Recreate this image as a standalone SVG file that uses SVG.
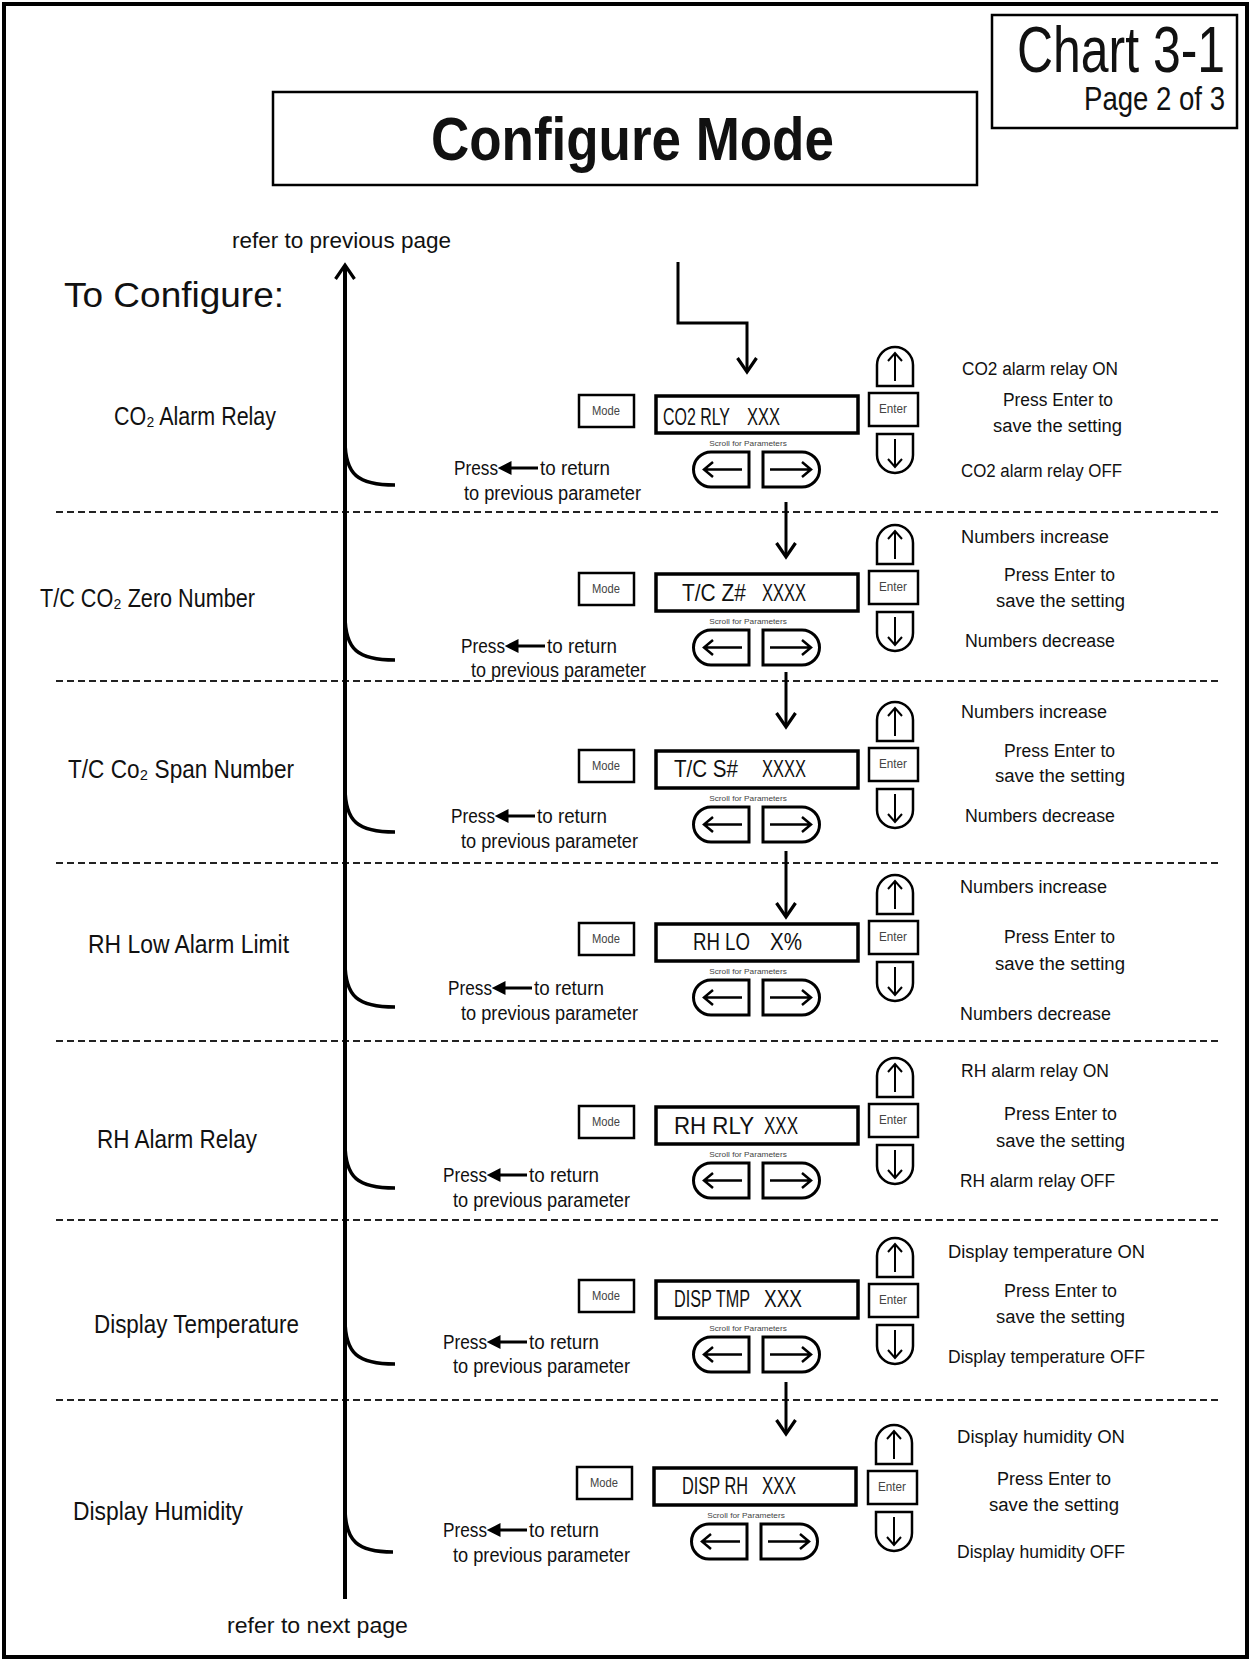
<svg xmlns="http://www.w3.org/2000/svg" width="1251" height="1661" viewBox="0 0 1251 1661">
<style>
.t{font-family:"Liberation Sans",Arial,sans-serif;fill:#111}
.lbl{font-size:26px}
.rt{font-size:19px}
.pr{font-size:20px}
.dt{font-size:23px}
.sm{font-size:12px;fill:#444}
.tiny{font-size:7px;fill:#444}
.ln{stroke:#000;fill:none}
.dash{stroke:#222;stroke-width:2;stroke-dasharray:7 4;fill:none}
</style>
<defs>
<marker id="ah" viewBox="0 0 20 22" refX="17" refY="11" markerWidth="20" markerHeight="22" markerUnits="userSpaceOnUse" orient="auto">
<path d="M3,1.5 L17,11 L3,20.5" fill="none" stroke="#000" stroke-width="3.2"/>
</marker>
<g id="padL">
<rect x="579" y="395" width="55" height="32" class="ln" stroke-width="2.5"/>
<text transform="matrix(0.8 0 0 1 606 415)" class="t sm" text-anchor="middle" textLength="35" lengthAdjust="spacingAndGlyphs">Mode</text>
<rect x="656" y="396" width="202" height="37" class="ln" stroke-width="3.5"/>
<text transform="matrix(0.8 0 0 1 748 446)" class="t tiny" text-anchor="middle" textLength="97" lengthAdjust="spacingAndGlyphs">Scroll for Parameters</text>
<path d="M749,452 H711 A17.5,17.5 0 0 0 711,487 H749 Z" class="ln" stroke-width="3"/>
<path d="M742,469.5 H704 M713,462 L704,469.5 L713,477" class="ln" stroke-width="2.5"/>
<path d="M763,452 H802 A17.5,17.5 0 0 1 802,487 H763 Z" class="ln" stroke-width="3"/>
<path d="M770,469.5 H811 M802,462 L811,469.5 L802,477" class="ln" stroke-width="2.5"/>
</g>
<g id="padR">
<path d="M877,386 V365 A18,18 0 0 1 913,365 V386 Z" class="ln" stroke-width="2.5"/>
<path d="M895,381 V353 M888,361 L895,353 L902,361" class="ln" stroke-width="2"/>
<rect x="869" y="393" width="49" height="33" class="ln" stroke-width="2.5"/>
<text transform="matrix(0.8 0 0 1 893 413)" class="t sm" text-anchor="middle" textLength="35" lengthAdjust="spacingAndGlyphs">Enter</text>
<path d="M877,434 V455 A18,18 0 0 0 913,455 V434 Z" class="ln" stroke-width="2.5"/>
<path d="M895,439 V467 M888,459 L895,467 L902,459" class="ln" stroke-width="2"/>
</g>
<path id="pressArrow" d="M0,0 L9,-4.5 L9,4.5 Z M8,0 H37" stroke="#000" stroke-width="3" fill="#000"/>
</defs>

<rect x="4" y="4" width="1243" height="1653" fill="#fff" stroke="#000" stroke-width="4"/>

<g id="title">
<rect x="273" y="92" width="704" height="93" class="ln" stroke-width="2.5"/>
<text transform="matrix(0.85 0 0 1 431 160)" class="t" font-size="62" font-weight="bold" textLength="474" lengthAdjust="spacingAndGlyphs">Configure Mode</text>
</g>
<g id="chart">
<rect x="992" y="15" width="245" height="113" class="ln" stroke-width="2.5"/>
<text transform="matrix(0.78 0 0 1 1017 72)" class="t" font-size="64" textLength="266.7" lengthAdjust="spacingAndGlyphs">Chart 3-1</text>
<text transform="matrix(0.8 0 0 1 1084 110)" class="t" font-size="33" textLength="176.25" lengthAdjust="spacingAndGlyphs">Page 2 of 3</text>
</g>
<g id="header">
<text x="64" y="307" class="t" font-size="35" textLength="220" lengthAdjust="spacingAndGlyphs">To Configure:</text>
<text transform="matrix(0.85 0 0 1 232 248)" class="t" font-size="22" textLength="257.6" lengthAdjust="spacingAndGlyphs">refer to previous page</text>
<text transform="matrix(0.85 0 0 1 227 1633)" class="t" font-size="22" textLength="212.9" lengthAdjust="spacingAndGlyphs">refer to next page</text>
</g>

<g id="dividers">
<path d="M56,512 H1218 M56,681 H1218 M56,863 H1218 M56,1041 H1218 M56,1220 H1218 M56,1400 H1218" class="dash"/>
</g>

<g id="connectors">
<path d="M345,1599 V265" class="ln" stroke-width="4" marker-end="url(#ah)"/>
<path d="M678,262 V323 H747 V372" class="ln" stroke-width="3" marker-end="url(#ah)"/>
<path d="M786,502 V557" class="ln" stroke-width="3" marker-end="url(#ah)"/>
<path d="M786,672 V727" class="ln" stroke-width="3" marker-end="url(#ah)"/>
<path d="M786,851 V917" class="ln" stroke-width="3" marker-end="url(#ah)"/>
<path d="M786,1382 V1434" class="ln" stroke-width="3" marker-end="url(#ah)"/>
<path d="M345,440 C345,475 358,485 395,485" class="ln" stroke-width="3.5"/>
<path d="M345,615 C345,650 358,660 395,660" class="ln" stroke-width="3.5"/>
<path d="M345,787 C345,822 358,832 395,832" class="ln" stroke-width="3.5"/>
<path d="M345,962 C345,997 358,1007 395,1007" class="ln" stroke-width="3.5"/>
<path d="M345,1143 C345,1178 358,1188 395,1188" class="ln" stroke-width="3.5"/>
<path d="M345,1319 C345,1354 358,1364 395,1364" class="ln" stroke-width="3.5"/>
<path d="M345,1507 C345,1542 358,1552 393,1552" class="ln" stroke-width="3.5"/>
</g>

<g id="row1">
<text transform="matrix(0.75 0 0 1 114 425)" class="t lbl" textLength="216" lengthAdjust="spacingAndGlyphs">CO₂ Alarm Relay</text>
<use href="#padL"/>
<use href="#padR"/>
<text transform="matrix(0.7 0 0 1 663 425)" class="t dt" textLength="95.7" lengthAdjust="spacingAndGlyphs">CO2 RLY</text>
<text transform="matrix(0.7 0 0 1 747 425)" class="t dt" textLength="47.1" lengthAdjust="spacingAndGlyphs">XXX</text>
<text transform="matrix(0.8 0 0 1 454 475)" class="t pr" textLength="55" lengthAdjust="spacingAndGlyphs">Press</text>
<use href="#pressArrow" x="501" y="468"/>
<text transform="matrix(0.8 0 0 1 540 475)" class="t pr" textLength="87.5" lengthAdjust="spacingAndGlyphs">to return</text>
<text transform="matrix(0.8 0 0 1 464 500)" class="t pr" textLength="221.25" lengthAdjust="spacingAndGlyphs">to previous parameter</text>
<text transform="matrix(0.8 0 0 1 962 375)" class="t rt" textLength="195" lengthAdjust="spacingAndGlyphs">CO2 alarm relay ON</text>
<text transform="matrix(0.8 0 0 1 1003 406)" class="t rt" textLength="137.5" lengthAdjust="spacingAndGlyphs">Press Enter to</text>
<text transform="matrix(0.8 0 0 1 993 432)" class="t rt" textLength="161.25" lengthAdjust="spacingAndGlyphs">save the setting</text>
<text transform="matrix(0.8 0 0 1 961 477)" class="t rt" textLength="201.25" lengthAdjust="spacingAndGlyphs">CO2 alarm relay OFF</text>
</g>

<g id="row2">
<text transform="matrix(0.75 0 0 1 40 607)" class="t lbl" textLength="286.7" lengthAdjust="spacingAndGlyphs">T/C CO₂ Zero Number</text>
<use href="#padL" transform="translate(0,178)"/>
<use href="#padR" transform="translate(0,178)"/>
<text transform="matrix(0.7 0 0 1 682 601)" class="t dt" textLength="91.4" lengthAdjust="spacingAndGlyphs">T/C Z#</text>
<text transform="matrix(0.7 0 0 1 762 601)" class="t dt" textLength="62.9" lengthAdjust="spacingAndGlyphs">XXXX</text>
<text transform="matrix(0.8 0 0 1 461 653)" class="t pr" textLength="55" lengthAdjust="spacingAndGlyphs">Press</text>
<use href="#pressArrow" x="508" y="646"/>
<text transform="matrix(0.8 0 0 1 547 653)" class="t pr" textLength="87.5" lengthAdjust="spacingAndGlyphs">to return</text>
<text transform="matrix(0.8 0 0 1 471 677)" class="t pr" textLength="218.75" lengthAdjust="spacingAndGlyphs">to previous parameter</text>
<text transform="matrix(0.8 0 0 1 961 543)" class="t rt" textLength="185" lengthAdjust="spacingAndGlyphs">Numbers increase</text>
<text transform="matrix(0.8 0 0 1 1004 581)" class="t rt" textLength="138.75" lengthAdjust="spacingAndGlyphs">Press Enter to</text>
<text transform="matrix(0.8 0 0 1 996 607)" class="t rt" textLength="161.25" lengthAdjust="spacingAndGlyphs">save the setting</text>
<text transform="matrix(0.8 0 0 1 965 647)" class="t rt" textLength="187.5" lengthAdjust="spacingAndGlyphs">Numbers decrease</text>
</g>

<g id="row3">
<text transform="matrix(0.75 0 0 1 68 778)" class="t lbl" textLength="301.3" lengthAdjust="spacingAndGlyphs">T/C Co₂ Span Number</text>
<use href="#padL" transform="translate(0,355)"/>
<use href="#padR" transform="translate(0,355)"/>
<text transform="matrix(0.7 0 0 1 674 777)" class="t dt" textLength="91.4" lengthAdjust="spacingAndGlyphs">T/C S#</text>
<text transform="matrix(0.7 0 0 1 762 777)" class="t dt" textLength="62.9" lengthAdjust="spacingAndGlyphs">XXXX</text>
<text transform="matrix(0.8 0 0 1 451 823)" class="t pr" textLength="55" lengthAdjust="spacingAndGlyphs">Press</text>
<use href="#pressArrow" x="498" y="816"/>
<text transform="matrix(0.8 0 0 1 537 823)" class="t pr" textLength="87.5" lengthAdjust="spacingAndGlyphs">to return</text>
<text transform="matrix(0.8 0 0 1 461 848)" class="t pr" textLength="221.25" lengthAdjust="spacingAndGlyphs">to previous parameter</text>
<text transform="matrix(0.8 0 0 1 961 718)" class="t rt" textLength="182.5" lengthAdjust="spacingAndGlyphs">Numbers increase</text>
<text transform="matrix(0.8 0 0 1 1004 757)" class="t rt" textLength="138.75" lengthAdjust="spacingAndGlyphs">Press Enter to</text>
<text transform="matrix(0.8 0 0 1 995 782)" class="t rt" textLength="162.5" lengthAdjust="spacingAndGlyphs">save the setting</text>
<text transform="matrix(0.8 0 0 1 965 822)" class="t rt" textLength="187.5" lengthAdjust="spacingAndGlyphs">Numbers decrease</text>
</g>

<g id="row4">
<text transform="matrix(0.75 0 0 1 88 953)" class="t lbl" textLength="268" lengthAdjust="spacingAndGlyphs">RH Low Alarm Limit</text>
<use href="#padL" transform="translate(0,528)"/>
<use href="#padR" transform="translate(0,528)"/>
<text transform="matrix(0.7 0 0 1 693 950)" class="t dt" textLength="81.4" lengthAdjust="spacingAndGlyphs">RH LO</text>
<text transform="matrix(0.7 0 0 1 770 950)" class="t dt" textLength="45.7" lengthAdjust="spacingAndGlyphs">X%</text>
<text transform="matrix(0.8 0 0 1 448 995)" class="t pr" textLength="55" lengthAdjust="spacingAndGlyphs">Press</text>
<use href="#pressArrow" x="495" y="988"/>
<text transform="matrix(0.8 0 0 1 534 995)" class="t pr" textLength="87.5" lengthAdjust="spacingAndGlyphs">to return</text>
<text transform="matrix(0.8 0 0 1 461 1020)" class="t pr" textLength="221.25" lengthAdjust="spacingAndGlyphs">to previous parameter</text>
<text transform="matrix(0.8 0 0 1 960 893)" class="t rt" textLength="183.75" lengthAdjust="spacingAndGlyphs">Numbers increase</text>
<text transform="matrix(0.8 0 0 1 1004 943)" class="t rt" textLength="138.75" lengthAdjust="spacingAndGlyphs">Press Enter to</text>
<text transform="matrix(0.8 0 0 1 995 970)" class="t rt" textLength="162.5" lengthAdjust="spacingAndGlyphs">save the setting</text>
<text transform="matrix(0.8 0 0 1 960 1020)" class="t rt" textLength="188.75" lengthAdjust="spacingAndGlyphs">Numbers decrease</text>
</g>

<g id="row5">
<text transform="matrix(0.75 0 0 1 97 1148)" class="t lbl" textLength="213.3" lengthAdjust="spacingAndGlyphs">RH Alarm Relay</text>
<use href="#padL" transform="translate(0,711)"/>
<use href="#padR" transform="translate(0,711)"/>
<text transform="matrix(0.7 0 0 1 674 1134)" class="t dt" textLength="114.3" lengthAdjust="spacingAndGlyphs">RH RLY</text>
<text transform="matrix(0.7 0 0 1 764 1134)" class="t dt" textLength="48.6" lengthAdjust="spacingAndGlyphs">XXX</text>
<text transform="matrix(0.8 0 0 1 443 1182)" class="t pr" textLength="55" lengthAdjust="spacingAndGlyphs">Press</text>
<use href="#pressArrow" x="490" y="1175"/>
<text transform="matrix(0.8 0 0 1 529 1182)" class="t pr" textLength="87.5" lengthAdjust="spacingAndGlyphs">to return</text>
<text transform="matrix(0.8 0 0 1 453 1207)" class="t pr" textLength="221.25" lengthAdjust="spacingAndGlyphs">to previous parameter</text>
<text transform="matrix(0.8 0 0 1 961 1077)" class="t rt" textLength="185" lengthAdjust="spacingAndGlyphs">RH alarm relay ON</text>
<text transform="matrix(0.8 0 0 1 1004 1120)" class="t rt" textLength="141.25" lengthAdjust="spacingAndGlyphs">Press Enter to</text>
<text transform="matrix(0.8 0 0 1 996 1147)" class="t rt" textLength="161.25" lengthAdjust="spacingAndGlyphs">save the setting</text>
<text transform="matrix(0.8 0 0 1 960 1187)" class="t rt" textLength="193.75" lengthAdjust="spacingAndGlyphs">RH alarm relay OFF</text>
</g>

<g id="row6">
<text transform="matrix(0.75 0 0 1 94 1333)" class="t lbl" textLength="273.3" lengthAdjust="spacingAndGlyphs">Display Temperature</text>
<use href="#padL" transform="translate(0,885)"/>
<use href="#padR" transform="translate(0,891)"/>
<text transform="matrix(0.7 0 0 1 674 1307)" class="t dt" textLength="108.6" lengthAdjust="spacingAndGlyphs">DISP TMP</text>
<text transform="matrix(0.7 0 0 1 764 1307)" class="t dt" textLength="54.3" lengthAdjust="spacingAndGlyphs">XXX</text>
<text transform="matrix(0.8 0 0 1 443 1349)" class="t pr" textLength="55" lengthAdjust="spacingAndGlyphs">Press</text>
<use href="#pressArrow" x="490" y="1342"/>
<text transform="matrix(0.8 0 0 1 529 1349)" class="t pr" textLength="87.5" lengthAdjust="spacingAndGlyphs">to return</text>
<text transform="matrix(0.8 0 0 1 453 1373)" class="t pr" textLength="221.25" lengthAdjust="spacingAndGlyphs">to previous parameter</text>
<text transform="matrix(0.8 0 0 1 948 1258)" class="t rt" textLength="246.25" lengthAdjust="spacingAndGlyphs">Display temperature ON</text>
<text transform="matrix(0.8 0 0 1 1004 1297)" class="t rt" textLength="141.25" lengthAdjust="spacingAndGlyphs">Press Enter to</text>
<text transform="matrix(0.8 0 0 1 996 1323)" class="t rt" textLength="161.25" lengthAdjust="spacingAndGlyphs">save the setting</text>
<text transform="matrix(0.8 0 0 1 948 1363)" class="t rt" textLength="246.25" lengthAdjust="spacingAndGlyphs">Display temperature OFF</text>
</g>

<g id="row7">
<text transform="matrix(0.75 0 0 1 73 1520)" class="t lbl" textLength="226.7" lengthAdjust="spacingAndGlyphs">Display Humidity</text>
<use href="#padL" transform="translate(-2,1072)"/>
<use href="#padR" transform="translate(-1,1078)"/>
<text transform="matrix(0.7 0 0 1 682 1494)" class="t dt" textLength="94.3" lengthAdjust="spacingAndGlyphs">DISP RH</text>
<text transform="matrix(0.7 0 0 1 762 1494)" class="t dt" textLength="48.6" lengthAdjust="spacingAndGlyphs">XXX</text>
<text transform="matrix(0.8 0 0 1 443 1537)" class="t pr" textLength="55" lengthAdjust="spacingAndGlyphs">Press</text>
<use href="#pressArrow" x="490" y="1530"/>
<text transform="matrix(0.8 0 0 1 529 1537)" class="t pr" textLength="87.5" lengthAdjust="spacingAndGlyphs">to return</text>
<text transform="matrix(0.8 0 0 1 453 1562)" class="t pr" textLength="221.25" lengthAdjust="spacingAndGlyphs">to previous parameter</text>
<text transform="matrix(0.8 0 0 1 957 1443)" class="t rt" textLength="210" lengthAdjust="spacingAndGlyphs">Display humidity ON</text>
<text transform="matrix(0.8 0 0 1 997 1485)" class="t rt" textLength="142.5" lengthAdjust="spacingAndGlyphs">Press Enter to</text>
<text transform="matrix(0.8 0 0 1 989 1511)" class="t rt" textLength="162.5" lengthAdjust="spacingAndGlyphs">save the setting</text>
<text transform="matrix(0.8 0 0 1 957 1558)" class="t rt" textLength="210" lengthAdjust="spacingAndGlyphs">Display humidity OFF</text>
</g>
</svg>
